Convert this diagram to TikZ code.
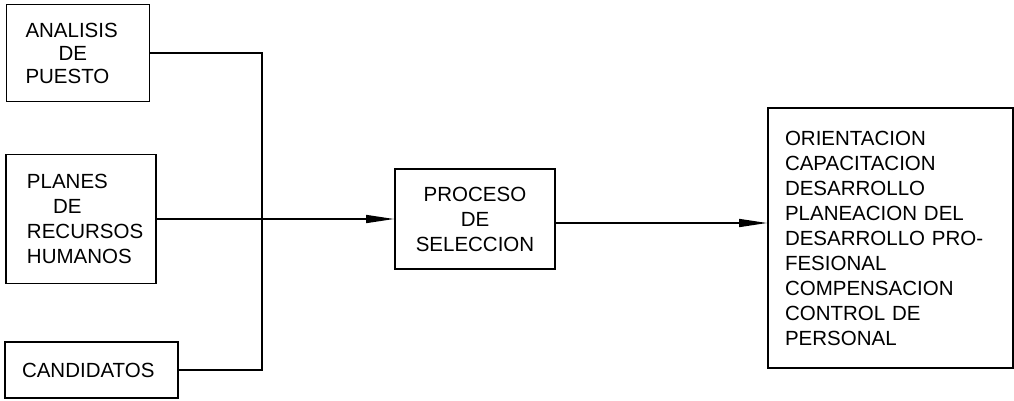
\documentclass[tikz,border=0pt]{standalone}
\usepackage{fontspec}
\setmainfont{Liberation Sans}
\usetikzlibrary{arrows.meta}
\begin{document}
\begin{tikzpicture}[x=1pt,y=-1pt,
  box/.style={draw, line width=1.7pt, inner ysep=0pt, font=\fontsize{20.5}{25}\selectfont},
  conn/.style={line width=1.5pt},
  arr/.style={conn, -{Triangle[length=28pt,width=8pt]}}]
\useasboundingbox (0,0) rectangle (1014,400);
\node[box, minimum width=143pt, minimum height=97pt, inner xsep=19pt, text width=105pt, align=left, font=\fontsize{20.5}{23}\selectfont]
  (ap) at (78,53) {ANALISIS\\\hspace*{33pt}DE\\PUESTO};
\node[box, minimum width=150pt, minimum height=129pt, inner xsep=21pt, text width=108pt, align=left]
  (prh) at (81,219) {PLANES\\\hspace*{26pt}DE\\RECURSOS\\HUMANOS};
\node[box, minimum width=173pt, minimum height=56pt, inner xsep=17pt, text width=139pt, align=left]
  (cand) at (91.5,370) {CANDIDATOS};
\node[box, minimum width=160pt, minimum height=100pt, align=center]
  (ps) at (475,219) {PROCESO\\DE\\SELECCION};
\node[box, minimum width=245pt, minimum height=260pt, inner xsep=17pt, text width=211pt, align=left]
  (res) at (890.5,238) {ORIENTACION\\CAPACITACION\\DESARROLLO\\PLANEACION DEL\\DESARROLLO PRO-\\FESIONAL\\COMPENSACION\\CONTROL DE\\PERSONAL};
\coordinate (jt) at (262,53);
\coordinate (jb) at (262,370);
\draw[conn] (ap.east) -- (jt) -- (jb) -- (cand.east);
\draw[arr] (prh.east) -- (prh.east -| ps.west);
\coordinate (out) at ([yshift=-4pt]ps.east);
\draw[arr] (out) -- (out -| res.west);
\end{tikzpicture}
\end{document}
